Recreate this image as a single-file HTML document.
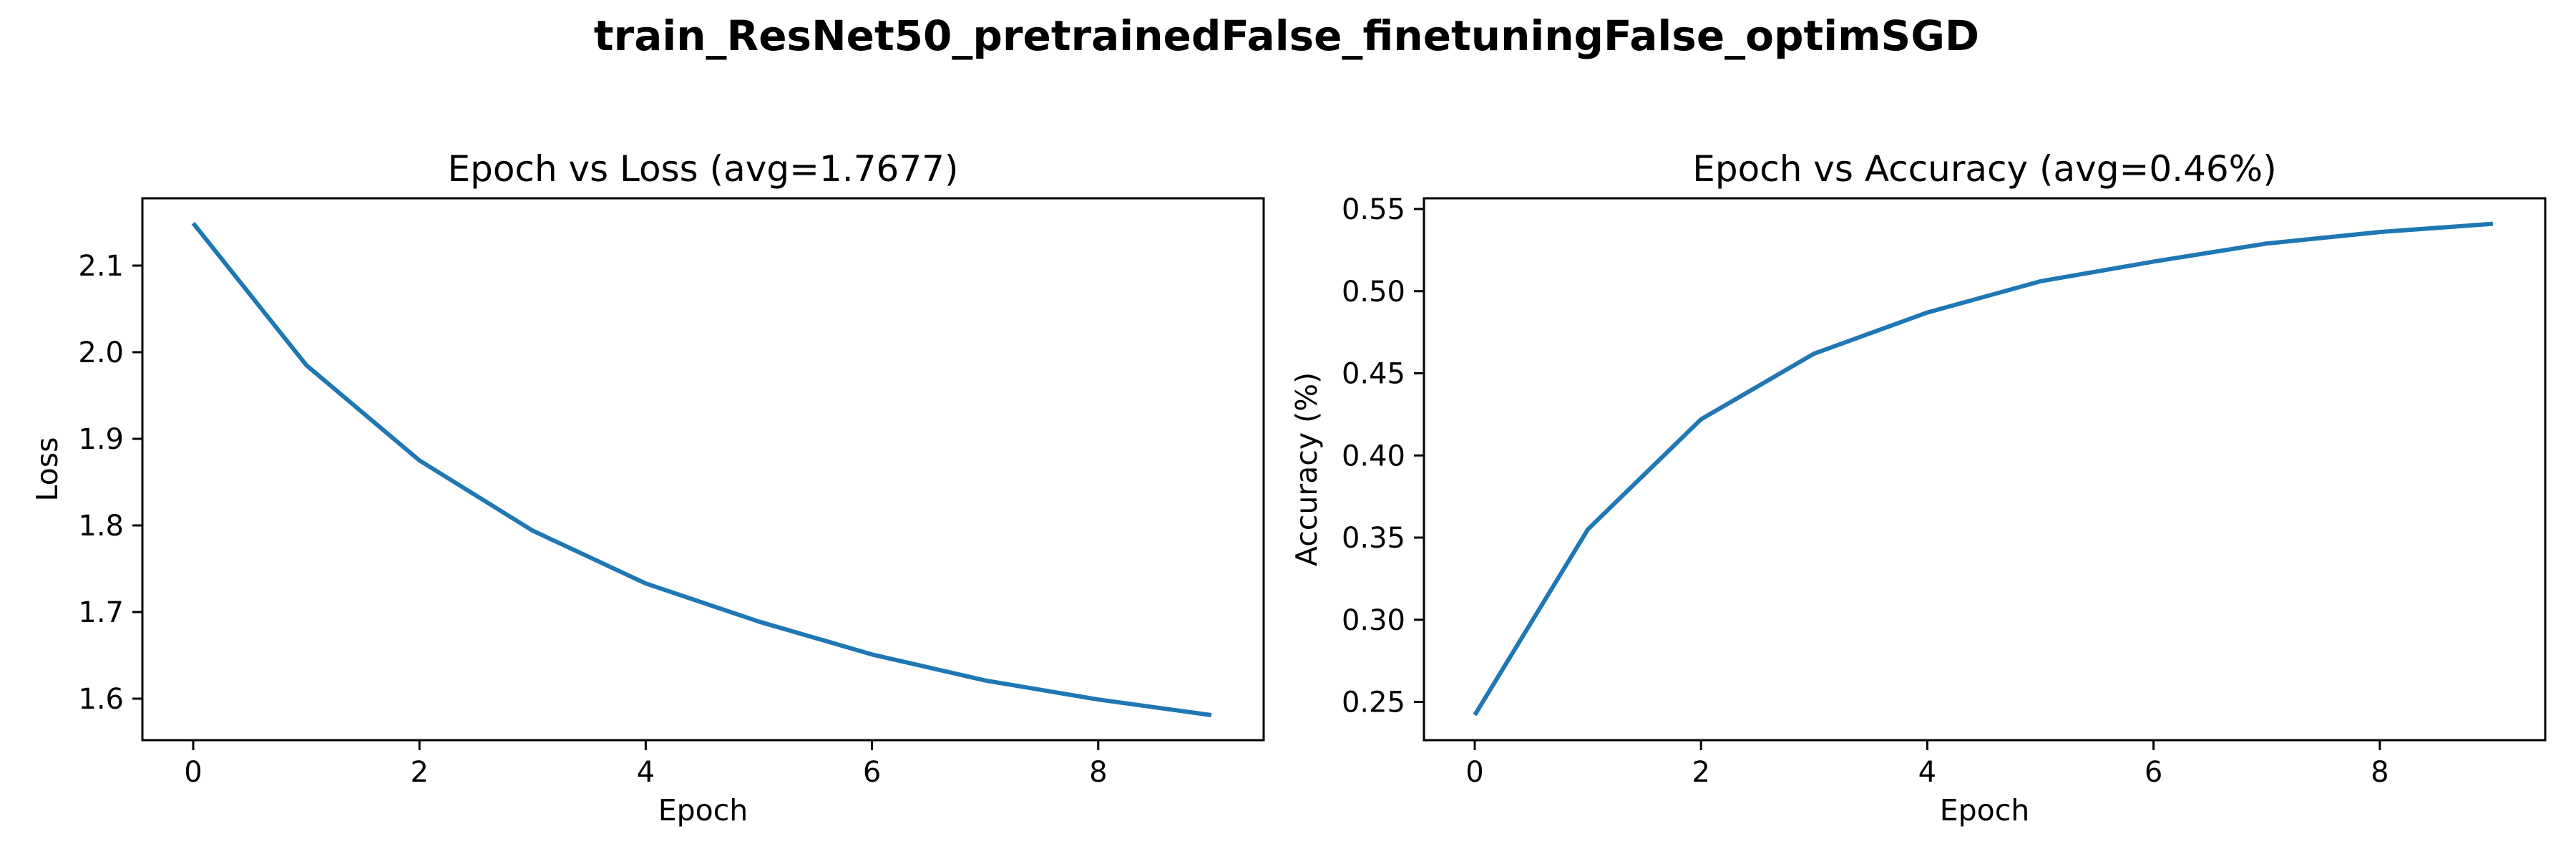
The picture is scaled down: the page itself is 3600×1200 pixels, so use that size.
<!DOCTYPE html>
<html><head><meta charset="utf-8"><style>
html,body{margin:0;padding:0;background:#fff;}
svg{display:block;font-family:"DejaVu Sans","Liberation Sans",sans-serif;}
</style></head><body>
<svg id="fig" width="3600" height="1200" viewBox="0 0 3600 1200" xmlns="http://www.w3.org/2000/svg">
<rect width="3600" height="1200" fill="#fff"/>
<text x="1798" y="70" font-size="58" font-weight="bold" text-anchor="middle">train_ResNet50_pretrainedFalse_finetuningFalse_optimSGD</text>
<g id="left"></g>
<g id="right"></g>
</svg>
<script>
const epochs = [0,1,2,3,4,5,6,7,8,9];
const lossValues = [2.149,1.985,1.875,1.794,1.733,1.689,1.651,1.621,1.599,1.581];
const accValues = [0.242,0.355,0.422,0.462,0.487,0.506,0.518,0.529,0.536,0.541];
const xTicks = [0,2,4,6,8];
const lossTicks = [1.6,1.7,1.8,1.9,2.0,2.1];
const accTicks = [0.25,0.30,0.35,0.40,0.45,0.50,0.55];
const NS='http://www.w3.org/2000/svg';
function mk(tag,attrs,parent){const e=document.createElementNS(NS,tag);for(const k in attrs)e.setAttribute(k,attrs[k]);parent.appendChild(e);return e;}
function draw(g,cfg){
  const L=cfg.left,R=cfg.left+1567,T=277,B=1034;
  const xs=v=>cfg.x0+v*158.1;
  const ys=v=>cfg.yRef+(cfg.refV-v)*cfg.ppu;
  for(const t of xTicks){
    const tk=mk('line',{x1:xs(t),x2:xs(t),y1:B,y2:B+14,stroke:'#000','stroke-width':3},g);
    
    
    const tl=mk('text',{x:xs(t),y:B+58,'font-size':40,'text-anchor':'middle'},g);tl.textContent=t;
    
    
  }
  for(const t of cfg.yTicks){
    const tk=mk('line',{x1:L-14,x2:L,y1:ys(t),y2:ys(t),stroke:'#000','stroke-width':3},g);
    
    
    const tl=mk('text',{x:L-26,y:ys(t)+14,'font-size':40,'text-anchor':'end'},g);tl.textContent=t.toFixed(cfg.dec);
    
    
  }
  const pts=cfg.vals.map((v,i)=>xs(epochs[i])+','+ys(v)).join(' ');
  const line=mk('polyline',{points:pts,fill:'none',stroke:'#1f77b4','stroke-width':6,'stroke-linejoin':'round'},g);
  
  
  const fr=mk('rect',{x:L,y:T,width:R-L,height:B-T,fill:'none',stroke:'#000','stroke-width':3},g);
  
  
  const ti=mk('text',{x:(L+R)/2,y:253,'font-size':50,'text-anchor':'middle'},g);ti.textContent=cfg.title;
  
  
  const xl=mk('text',{x:(L+R)/2,y:1146,'font-size':41,'text-anchor':'middle'},g);xl.textContent='Epoch';
  
  
  const yl=mk('text',{x:cfg.ylx,y:(T+B)/2,'font-size':41,'text-anchor':'middle',transform:`rotate(-90 ${cfg.ylx} ${(T+B)/2})`},g);yl.textContent=cfg.ylabel;
  
  
}
draw(document.getElementById('left'),{left:199,x0:270,yRef:371,refV:2.1,ppu:1210,yTicks:lossTicks,dec:1,vals:lossValues,title:'Epoch vs Loss (avg=1.7677)',ylabel:'Loss',ylx:80});
draw(document.getElementById('right'),{left:1990,x0:2061,yRef:292,refV:0.55,ppu:2295,yTicks:accTicks,dec:2,vals:accValues,title:'Epoch vs Accuracy (avg=0.46%)',ylabel:'Accuracy (%)',ylx:1840});
</script>
</body></html>
